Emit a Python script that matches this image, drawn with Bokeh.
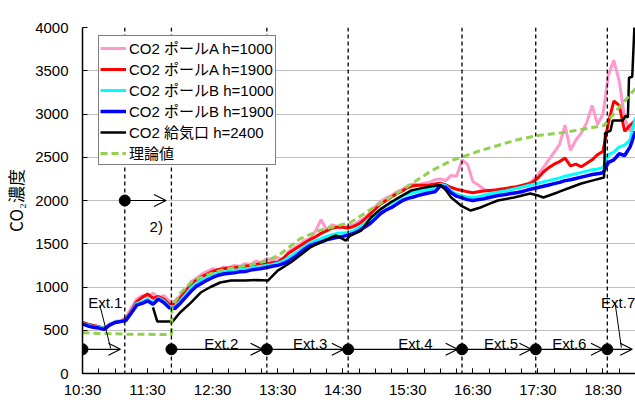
from bokeh.plotting import figure
from bokeh.models import (Range1d, FixedTicker, Span, Arrow, OpenHead, Label,
                          Legend, LegendItem, ColumnDataSource)
from bokeh.embed import file_html
from bokeh.resources import INLINE

# ---------------- data (time = minutes after 10:30) ----------------
tick_minutes = [0, 60, 120, 180, 240, 300, 360, 420, 480]
tick_labels = ["10:30", "11:30", "12:30", "13:30", "14:30", "15:30", "16:30", "17:30", "18:30"]
minor_minutes = [0, 15, 30, 45, 60, 75, 90, 105, 120, 135, 150, 165, 180, 195, 210, 225,
                 240, 255, 270, 285, 300, 315, 330, 345, 360, 375, 390, 405, 420, 435,
                 450, 465, 480, 495, 510]
y_ticks = [0, 500, 1000, 1500, 2000, 2500, 3000, 3500, 4000]

t5 = [0, 5, 10, 15, 20, 25, 30, 35, 40, 45, 50, 55,
      60, 65, 70, 75, 80, 85, 90, 95, 100, 105, 110, 115,
      120, 125, 130, 135, 140, 145, 150, 155, 160, 165, 170, 175,
      180, 185, 190, 195, 200, 205, 210, 215, 220, 225, 230, 235,
      240, 245, 250, 255, 260, 265, 270, 275, 280, 285, 290, 295,
      300, 305, 310, 315, 320, 325, 330, 335, 340, 345, 350, 355,
      360, 365, 370, 375, 380, 385, 390, 395, 400, 405, 410, 415,
      420, 425, 430, 435, 440, 445, 450, 455, 460, 465, 470, 475,
      480, 485, 490, 495, 500, 505, 510]

pole_a_1000 = [590, 570, 555, 540, 525, 570, 600, 610, 650, 760, 860, 900,
               880, 930, 880, 900, 840, 830, 900, 960, 1060, 1100, 1150, 1180,
               1210, 1200, 1230, 1220, 1250, 1240, 1270, 1260, 1300, 1280, 1330, 1300,
               1340, 1320, 1410, 1450, 1490, 1540, 1560, 1650, 1780, 1660, 1720, 1700,
               1690, 1700, 1720, 1760, 1800, 1860, 1930, 1990, 2030, 2060, 2100, 2130,
               2170, 2190, 2180, 2200, 2210, 2240, 2250, 2230, 2290, 2280, 2470, 2420,
               2220, 2180, 2130, 2110, 2120, 2100, 2130, 2120, 2150, 2140, 2180, 2230,
               2300, 2380, 2470, 2560, 2650, 2870, 2580, 2700, 2780, 2900, 3100, 2880,
               3000, 3450, 3620, 3380, 2950, 2800, 2920]

pole_a_1900 = [590, 570, 555, 540, 520, 560, 590, 600, 630, 720, 830, 880,
               920, 870, 890, 860, 800, 800, 870, 950, 1030, 1080, 1120, 1150,
               1180, 1200, 1210, 1220, 1225, 1230, 1240, 1250, 1260, 1270, 1270, 1280,
               1290, 1330, 1390, 1430, 1470, 1510, 1550, 1580, 1620, 1650, 1680, 1690,
               1690, 1680, 1700, 1730, 1780, 1840, 1900, 1960, 2000, 2040, 2080, 2110,
               2150, 2170, 2175, 2175, 2180, 2190, 2200, 2180, 2150, 2130, 2115, 2100,
               2090, 2100, 2110, 2115, 2120, 2130, 2140, 2150, 2160, 2175, 2190, 2210,
               2260, 2330, 2380, 2420, 2450, 2490, 2400, 2420, 2390, 2430, 2470, 2530,
               2570, 2900, 3150, 3100, 2800, 2870, 2930]

pole_b_1000 = [580, 560, 545, 535, 520, 565, 595, 605, 620, 710, 810, 830,
               860, 820, 875, 840, 775, 770, 835, 910, 990, 1045, 1080, 1110,
               1140, 1160, 1175, 1185, 1190, 1200, 1205, 1220, 1230, 1240, 1250, 1260,
               1275, 1300, 1340, 1380, 1420, 1470, 1510, 1535, 1560, 1585, 1605, 1620,
               1625, 1630, 1650, 1690, 1730, 1780, 1840, 1900, 1940, 1970, 2010, 2050,
               2075, 2090, 2105, 2115, 2130, 2140, 2190, 2170, 2110, 2075, 2055, 2040,
               2035, 2045, 2060, 2075, 2090, 2100, 2110, 2125, 2140, 2155, 2170, 2185,
               2200, 2215, 2230, 2245, 2260, 2280, 2295, 2310, 2325, 2340, 2355, 2365,
               2380, 2530, 2560, 2620, 2640, 2700, 2960]

pole_b_1900 = [570, 550, 535, 525, 510, 560, 590, 600, 612, 700, 790, 810,
               840, 800, 860, 820, 760, 750, 810, 880, 950, 1010, 1045, 1080,
               1110, 1135, 1150, 1160, 1165, 1175, 1180, 1195, 1205, 1215, 1225, 1240,
               1250, 1270, 1300, 1340, 1390, 1440, 1480, 1500, 1520, 1545, 1560, 1575,
               1585, 1600, 1620, 1650, 1690, 1730, 1790, 1850, 1890, 1920, 1960, 2000,
               2025, 2040, 2060, 2075, 2090, 2100, 2170, 2150, 2090, 2050, 2030, 2010,
               2000, 2010, 2020, 2035, 2050, 2060, 2070, 2080, 2090, 2100, 2120, 2135,
               2150, 2165, 2180, 2195, 2210, 2230, 2240, 2255, 2270, 2285, 2300, 2310,
               2320, 2440, 2470, 2540, 2520, 2620, 2800]

supply_t = [65, 69, 83, 90, 100, 109, 118, 127, 137, 150, 160, 171, 180, 192, 201, 210,
            220, 229, 234, 243, 247, 257, 266, 275, 284, 294, 303, 312, 321, 330, 335,
            340, 349, 358, 367, 375, 383, 398, 413, 420, 425, 438, 450, 460, 470, 481,
            482, 487, 489, 498, 501, 503, 504, 507, 510]
supply_2400 = [765, 600, 600, 705, 820, 936, 1000, 1052, 1075, 1075, 1080, 1075, 1190, 1283,
               1370, 1457, 1520, 1572, 1595, 1537, 1595, 1653, 1803, 1900, 1977, 2050, 2115,
               2140, 2162, 2180, 2120, 2035, 1942, 1884, 1919, 1960, 2000, 2035, 2081, 2058,
               2035, 2093, 2150, 2196, 2230, 2266, 2780, 2809, 2925, 2925, 2980, 2960, 3420,
               3430, 4300]

theory_t = [0, 40, 82, 82.5, 90, 102, 115, 127, 140, 152, 171, 183, 201, 220, 247, 270,
            294, 320, 340, 349, 365, 383, 400, 420, 444, 460, 481, 494, 510]
theory_v = [470, 455, 450, 770, 925, 1075, 1140, 1190, 1225, 1249, 1306, 1387, 1560, 1660,
            1745, 1930, 2115, 2330, 2462, 2497, 2570, 2636, 2700, 2751, 2786, 2820, 2867,
            3063, 3295]

series_names = ["CO2 ポールA h=1000", "CO2 ポールA h=1900", "CO2 ポールB h=1000",
                "CO2 ポールB h=1900", "CO2 給気口 h=2400", "理論値"]

# ventilation change times (dashed lines) and markers
change_t = [39, 82, 170, 245, 350, 418, 484]
marker_t = [0, 82, 170, 245, 350, 418, 484, 39]
marker_v = [280, 280, 280, 280, 280, 280, 280, 2000]
arrow_t0 = [0, 82, 170, 245, 350, 418, 484, 39]
arrow_t1 = [35, 166, 241, 346, 414, 480, 507, 77]
arrow_v = [280, 280, 280, 280, 280, 280, 280, 2000]

ext_names = ["Ext.1", "Ext.2", "Ext.3", "Ext.4", "Ext.5", "Ext.6", "Ext.7"]
ext_t = [21, 128, 210, 307, 386, 449, 494]
ext_v = [820, 350, 350, 350, 350, 350, 820]
leader_t0 = [16, 491]
leader_v0 = [790, 830]
leader_t1 = [26, 497]
leader_v1 = [290, 300]

note_text = "2)"
note_t = 68
note_v = 1700

# ---------------- figure ----------------
p = figure(width=635, height=403, x_range=Range1d(0, 510), y_range=Range1d(0, 4000),
           output_backend="svg", toolbar_location=None,
           min_border_left=82, min_border_right=0, min_border_top=27, min_border_bottom=30)
p.outline_line_color = None
p.background_fill_color = "white"

tick_font = "Liberation Sans"
for ax in (p.xaxis[0], p.yaxis[0]):
    ax.axis_line_color = "black"
    ax.axis_line_width = 1.5
    ax.major_tick_in = 5
    ax.major_tick_out = 0
    ax.minor_tick_in = 5
    ax.minor_tick_out = 0
    ax.major_tick_line_color = "black"
    ax.minor_tick_line_color = "black"
    ax.major_label_text_font = tick_font
    ax.major_label_text_font_size = "15px"
    ax.major_label_text_color = "black"

p.xaxis.ticker = FixedTicker(ticks=tick_minutes, minor_ticks=minor_minutes)
p.xaxis.major_label_overrides = {k: v for k, v in zip(tick_minutes, tick_labels)}
p.xaxis.major_label_standoff = 7
p.yaxis.ticker = FixedTicker(ticks=y_ticks)
p.yaxis.minor_tick_line_color = None
p.yaxis.major_label_standoff = 14
p.yaxis.axis_label = "CO₂濃度"
p.yaxis.axis_label_text_font = "Noto Sans CJK JP"
p.yaxis.axis_label_text_font_size = "17px"
p.yaxis.axis_label_text_font_style = "normal"
p.yaxis.axis_label_text_color = "black"
p.yaxis.axis_label_standoff = 4

p.xgrid.visible = False
p.ygrid.grid_line_color = "#BFBFBF"
p.ygrid.grid_line_width = 1

# dashed event lines
for t in change_t:
    p.add_layout(Span(location=t, dimension="height", line_color="black",
                      line_dash="4 3", line_width=1.3))

# data lines
r1 = p.line(t5, pole_a_1000, line_color="#FF99CC", line_width=3)
r2 = p.line(t5, pole_a_1900, line_color="#FF0000", line_width=3)
r3 = p.line(t5, pole_b_1000, line_color="#00FFFF", line_width=3)
r4 = p.line(t5, pole_b_1900, line_color="#0000FF", line_width=3.5)
r5 = p.line(supply_t, supply_2400, line_color="black", line_width=2.5)
r6 = p.line(theory_t, theory_v, line_color="#92D050", line_width=3, line_dash="7 4")

# arrows + markers
asrc = ColumnDataSource(dict(x0=arrow_t0, x1=arrow_t1, y=arrow_v))
p.add_layout(Arrow(end=OpenHead(size=12, line_width=1.2, line_color="black"),
                   x_start="x0", y_start="y", x_end="x1", y_end="y",
                   line_width=1.2, line_color="black", source=asrc))
p.scatter(marker_t, marker_v, size=11, color="black")

p.segment(x0=leader_t0, y0=leader_v0, x1=leader_t1, y1=leader_v1,
          line_color="black", line_width=1)

for name, t, v in zip(ext_names, ext_t, ext_v):
    p.add_layout(Label(x=t, y=v, text=name, text_align="center", text_baseline="middle",
                       text_font="Liberation Sans", text_font_size="15px",
                       text_color="black"))

p.add_layout(Label(x=note_t, y=note_v, text=note_text, text_align="center",
                   text_baseline="middle", text_font="Liberation Sans",
                   text_font_size="15px", text_color="black"))

p.add_layout(Label(x=0, y=4000, x_offset=9, y_offset=6, text="[ppm]", text_align="center",
                   text_baseline="bottom", text_font="Liberation Sans",
                   text_font_size="13px", text_color="black"))

legend = Legend(items=[LegendItem(label=n, renderers=[r]) for n, r in
                       zip(series_names, [r1, r2, r3, r4, r5, r6])],
                location=(16, 208), orientation="vertical")
legend.label_text_font = "'Liberation Sans', 'Noto Sans CJK JP'"
legend.label_text_font_size = "15px"
legend.label_text_color = "black"
legend.glyph_width = 26
legend.glyph_height = 20
legend.label_height = 20
legend.label_standoff = 3
legend.spacing = 0
legend.padding = 1
legend.margin = 0
legend.border_line_color = "black"
legend.border_line_width = 1
legend.background_fill_alpha = 1
p.add_layout(legend, "center")

open("out.html", "w").write(file_html(p, INLINE))
